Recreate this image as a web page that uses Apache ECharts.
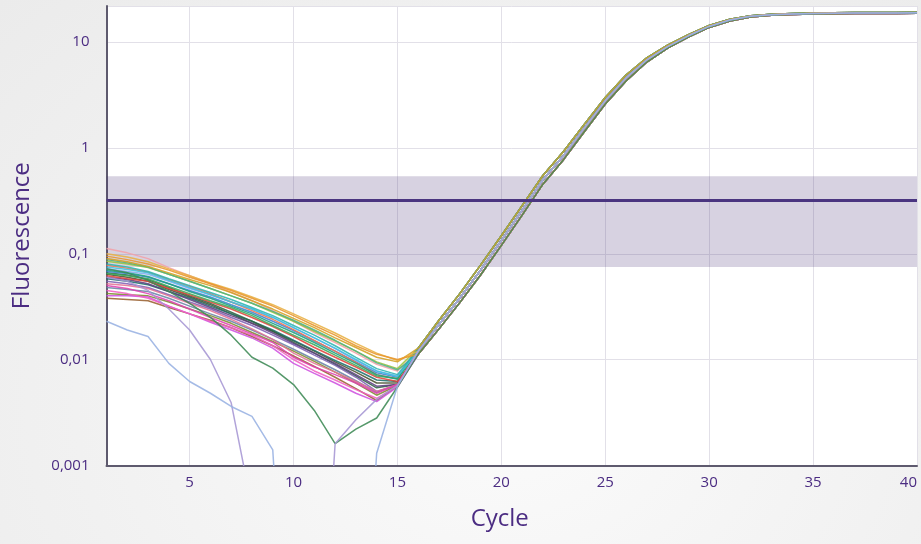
<!DOCTYPE html>
<html>
<head>
<meta charset="utf-8">
<script src="https://cdn.jsdelivr.net/npm/echarts@6/dist/echarts.min.js"></script>
<style>
html,body{margin:0;padding:0;}
body{width:921px;height:544px;background:radial-gradient(ellipse at 55% 75%, #fbfbfb 0%, #f1f1f1 60%, #ebebeb 100%);}
#chart{width:921px;height:544px;}
</style>
</head>
<body>
<div id="chart"></div>
<script>
// ---- data ----
const cycles = [1,2,3,4,5,6,7,8,9,10,11,12,13,14,15,16,17,18,19,20,21,22,23,24,25,26,27,28,29,30,31,32,33,34,35,36,37,38,39,40];
const xTicks = [5,10,15,20,25,30,35,40];
const yTickValues = [0.001,0.01,0.1,1,10];
const yTickLabels = ['0,001','0,01','0,1','1','10'];
const thresholdValue = 0.324;
const thresholdBand = [0.075, 0.54];

// amplification phase, cycles 16..40
const tailEarly = [0.0128,0.0235,0.042,0.078,0.148,0.285,0.55,0.93,1.68,3.0,4.9,7.1,9.4,11.8,14.4,16.5,17.8,18.4,18.7,18.9,19.0,19.05,19.1,19.1,19.15];
const tailMid   = [0.012,0.0214,0.038,0.070,0.133,0.257,0.50,0.85,1.55,2.8,4.6,6.8,9.1,11.5,14.1,16.2,17.6,18.2,18.5,18.7,18.8,18.85,18.9,18.9,18.95];
const tailLate  = [0.0112,0.0195,0.0345,0.063,0.120,0.232,0.455,0.78,1.43,2.6,4.3,6.5,8.8,11.2,13.8,15.9,17.3,18.0,18.3,18.5,18.6,18.65,18.7,18.7,18.75];

// baseline phase, cycles 1..15
const wellA01 = [0.112,0.102,0.090,0.074,0.062,0.052,0.043,0.036,0.029,0.023,0.018,0.0145,0.0115,0.009,0.0078];
const wellA02 = [0.085,0.080,0.074,0.064,0.055,0.047,0.040,0.034,0.028,0.023,0.0185,0.0150,0.0120,0.0095,0.0082];
const wellA03 = [0.064,0.060,0.055,0.046,0.039,0.033,0.027,0.022,0.0185,0.0150,0.0120,0.0095,0.0076,0.0060,0.0060];
const wellA04 = [0.058,0.055,0.051,0.044,0.038,0.032,0.027,0.023,0.019,0.0152,0.0122,0.0098,0.0080,0.0064,0.0062];
const wellA05 = [0.066,0.063,0.057,0.048,0.040,0.034,0.028,0.023,0.0185,0.0145,0.0115,0.0090,0.0070,0.0054,0.0058];
const wellA06 = [0.048,0.046,0.044,0.038,0.032,0.027,0.023,0.019,0.0155,0.0125,0.0100,0.0080,0.0063,0.0049,0.0058];
const wellA07 = [0.042,0.041,0.040,0.035,0.030,0.026,0.022,0.018,0.0148,0.0120,0.0096,0.0076,0.0060,0.0046,0.0057];
const wellA08 = [0.038,0.037,0.036,0.031,0.027,0.0235,0.020,0.0165,0.0135,0.0108,0.0086,0.0068,0.0053,0.0041,0.0056];
const wellA09 = [0.055,0.052,0.048,0.041,0.035,0.030,0.025,0.021,0.017,0.0138,0.011,0.0088,0.0068,0.0050,0.0057];
const wellA10 = [0.060,0.057,0.052,0.044,0.037,0.031,0.026,0.022,0.0178,0.0142,0.0115,0.0092,0.0072,0.0056,0.0058];
const wellA11 = [0.068,0.065,0.060,0.052,0.045,0.039,0.033,0.028,0.023,0.0188,0.015,0.012,0.0095,0.0075,0.0068];
const wellA12 = [0.072,0.068,0.064,0.055,0.047,0.041,0.035,0.030,0.025,0.020,0.016,0.0127,0.0098,0.0078,0.0070];
const wellA13 = [0.062,0.058,0.055,0.047,0.041,0.035,0.030,0.025,0.0205,0.0165,0.013,0.0105,0.0085,0.0068,0.0062];
const wellA14 = [0.078,0.073,0.067,0.057,0.049,0.042,0.035,0.029,0.024,0.0192,0.0152,0.0120,0.0094,0.0072,0.0066];
const wellA15 = [0.052,0.050,0.047,0.040,0.034,0.029,0.024,0.0195,0.0155,0.0115,0.0092,0.0076,0.0062,0.0050,0.0058];
const wellA16 = [0.040,0.040,0.039,0.032,0.027,0.0225,0.019,0.016,0.0128,0.0092,0.0074,0.0060,0.0048,0.0040,0.0055];
const wellA17 = [0.065,0.062,0.058,0.049,0.042,0.036,0.031,0.026,0.021,0.017,0.0138,0.011,0.0088,0.0070,0.0066];
const wellA18 = [0.070,0.066,0.061,0.052,0.044,0.038,0.032,0.027,0.022,0.018,0.0145,0.0115,0.0092,0.0072,0.0065];
const wellA19 = [0.088,0.082,0.075,0.064,0.055,0.047,0.040,0.034,0.0285,0.0235,0.019,0.0152,0.0120,0.0093,0.0080];
const wellA20 = [0.075,0.071,0.066,0.056,0.048,0.041,0.035,0.030,0.025,0.020,0.016,0.0128,0.0100,0.0078,0.0069];
const wellA21 = [0.080,0.075,0.068,0.058,0.050,0.043,0.037,0.031,0.026,0.021,0.017,0.0135,0.0105,0.0082,0.0072];
const wellA22 = [0.045,0.042,0.038,0.032,0.027,0.023,0.020,0.017,0.0135,0.0100,0.0078,0.0064,0.0052,0.0043,0.0056];
const wellA23 = [0.050,0.047,0.042,0.036,0.030,0.025,0.021,0.0175,0.0145,0.0105,0.0085,0.0072,0.0060,0.0048,0.0058];
const wellA24 = [0.090,0.084,0.076,0.066,0.057,0.050,0.043,0.036,0.030,0.0245,0.020,0.016,0.013,0.0105,0.0095];
const wellA25 = [0.100,0.093,0.084,0.072,0.062,0.053,0.046,0.039,0.033,0.027,0.022,0.0178,0.0142,0.0115,0.0098];
const wellA26 = [0.095,0.088,0.080,0.070,0.060,0.052,0.045,0.038,0.032,0.026,0.021,0.017,0.0135,0.0112,0.0100];
// outlier wells (values below the axis floor are drawn off-scale)
const wellGreen    = [0.072,0.066,0.056,0.044,0.034,0.025,0.017,0.0105,0.0083,0.0058,0.0033,0.0016,0.0022,0.0028,0.0055];
const wellLavender = [0.060,0.055,0.045,0.030,0.019,0.010,0.0039,0.0004,0.000001,0.000001,0.000001,0.0016,0.0027,0.0042,0.0057];
const wellBlue     = [0.023,0.019,0.0165,0.0092,0.0062,0.0048,0.0036,0.0029,0.0014,0.000001,0.000001,0.000001,0.000001,0.0013,0.0056];

const wells = [
  {b: wellA01, t: tailMid,   c: '#f2a0a8'},
  {b: wellA02, t: tailEarly, c: '#9cc43c'},
  {b: wellA03, t: tailMid,   c: '#4a5232'},
  {b: wellA04, t: tailLate,  c: '#1f6f6c'},
  {b: wellA05, t: tailMid,   c: '#2f6444'},
  {b: wellA06, t: tailLate,  c: '#6a84a6'},
  {b: wellA07, t: tailEarly, c: '#7d8b2e'},
  {b: wellA08, t: tailMid,   c: '#9a6232'},
  {b: wellA09, t: tailLate,  c: '#8062b4'},
  {b: wellA10, t: tailMid,   c: '#5e3f80'},
  {b: wellA11, t: tailEarly, c: '#4282d2'},
  {b: wellA12, t: tailMid,   c: '#84aaf0'},
  {b: wellA13, t: tailLate,  c: '#e0443c'},
  {b: wellA14, t: tailEarly, c: '#f07452'},
  {b: wellA15, t: tailMid,   c: '#e27294'},
  {b: wellA16, t: tailLate,  c: '#cf52e0'},
  {b: wellA17, t: tailMid,   c: '#3dab5a'},
  {b: wellA18, t: tailEarly, c: '#1fa082'},
  {b: wellA19, t: tailLate,  c: '#52b282'},
  {b: wellA20, t: tailMid,   c: '#40c0e0'},
  {b: wellA21, t: tailEarly, c: '#2bb5b0'},
  {b: wellA22, t: tailLate,  c: '#f062c2'},
  {b: wellA23, t: tailMid,   c: '#e042b2'},
  {b: wellA24, t: tailEarly, c: '#d4a022'},
  {b: wellA25, t: tailMid,   c: '#e8b042'},
  {b: wellA26, t: tailLate,  c: '#e8962e'},
  {b: wellGreen,    t: tailLate, c: '#3d8a55'},
  {b: wellLavender, t: tailMid,  c: '#a696d4'},
  {b: wellBlue,     t: tailMid,  c: '#98b2e2'}
];

// ---- chart ----
const purple = '#4b2c82';
const font = 'Open Sans';
const series = wells.map(function (w, i) {
  const vals = w.b.concat(w.t);
  return {
    type: 'line',
    name: 'well' + (i + 1),
    data: cycles.map(function (c, k) { return [c, vals[k]]; }),
    showSymbol: false,
    symbol: 'none',
    smooth: false,
    clip: true,
    lineStyle: {color: w.c, width: 1.5, opacity: 0.88},
    itemStyle: {color: w.c},
    z: 2
  };
});
series.push({
  type: 'line',
  name: 'threshold',
  data: [],
  z: 10,
  silent: true,
  markArea: {
    silent: true,
    itemStyle: {color: 'rgba(75,50,120,0.22)'},
    data: [[{yAxis: thresholdBand[0]}, {yAxis: thresholdBand[1]}]]
  },
  markLine: {
    silent: true,
    symbol: 'none',
    label: {show: false},
    lineStyle: {color: '#4a3580', width: 3, type: 'solid', opacity: 1},
    data: [{yAxis: thresholdValue}]
  }
});

const chart = echarts.init(document.getElementById('chart'), null, {renderer: 'canvas'});
chart.setOption({
  animation: false,
  backgroundColor: 'transparent',
  grid: {left: 106.5, right: 4, top: 6, bottom: 78.7, show: true, backgroundColor: '#ffffff', borderWidth: 0, containLabel: false},
  xAxis: {
    type: 'value', min: 1, max: 40,
    name: 'Cycle', nameLocation: 'middle', nameGap: 42,
    nameTextStyle: {color: purple, fontSize: 24, fontFamily: font, padding: [0, 24, 0, 0]},
    axisLine: {show: true, onZero: false, lineStyle: {color: '#5e5a6e', width: 2}},
    axisTick: {show: false, customValues: xTicks},
    axisLabel: {customValues: xTicks, color: purple, fontSize: 15, fontFamily: font, margin: 10, alignMaxLabel: 'right'},
    splitLine: {show: true, lineStyle: {color: '#e2e0e8', width: 1}}
  },
  yAxis: {
    type: 'log', logBase: 10, min: 0.001, max: 22,
    name: 'Fluorescence', nameLocation: 'middle', nameGap: 72,
    nameTextStyle: {color: purple, fontSize: 24, fontFamily: font},
    axisLine: {show: true, lineStyle: {color: '#5e5a6e', width: 2}},
    axisTick: {show: false},
    axisLabel: {
      color: purple, fontSize: 15, fontFamily: font, margin: 17,
      formatter: function (v) {
        for (let i = 0; i < yTickValues.length; i++) {
          if (Math.abs(v - yTickValues[i]) / yTickValues[i] < 1e-6) return yTickLabels[i];
        }
        return '';
      }
    },
    splitLine: {show: true, lineStyle: {color: '#e2e0e8', width: 1}}
  },
  series: series
});
</script>
</body>
</html>
